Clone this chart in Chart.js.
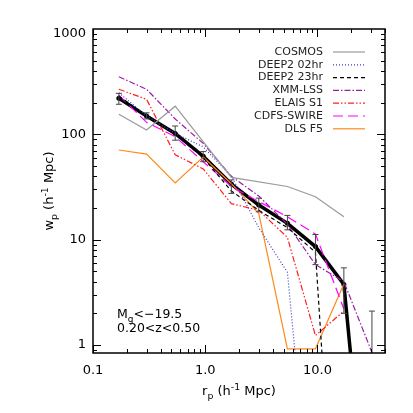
<!DOCTYPE html>
<html>
<head>
<meta charset="utf-8">
<script src="https://cdn.jsdelivr.net/npm/chart.js@4.4.0/dist/chart.umd.min.js"></script>
<style>html,body{margin:0;padding:0;background:#fff}</style>
</head>
<body>
<canvas id="chart" width="413" height="413"></canvas>
<script>
// data (rp in h^-1 Mpc, wp in h^-1 Mpc)
var rp = [0.17, 0.30, 0.54, 0.96, 1.71, 3.0, 5.4, 9.6, 17.2, 30.6];

var allWp = [220, 149, 102, 62, 33.7, 21.3, 14.3, 8.6, 3.76, 0.0066];
var allLo = [193, 140, 88, 55, 27.5, 18.4, 12.4, 5.8, 2.0, 0.3];
var allHi = [245, 160, 120, 68.6, 36.9, 24.8, 17.0, 11.2, 5.4, 2.1];

var cosmosRp = [0.17, 0.30, 0.54, 1.71, 5.4, 9.6, 17.2];
var cosmosWp = [155, 110, 185, 39, 32, 25.6, 16.5];
var deep02Wp = [248, 150, 102, 76, 40, 13, 4.9, 0.008];
var deep23Wp = [230, 150, 100, 60, 29, 19, 13, 7.6, 0.0005];
var xmmWp    = [352, 268, 140, 82, 40, 26, 14, 5.8, 4.0, 0.85];
var elaisWp  = [268, 215, 64, 47, 22, 19, 10.5, 1.23, 2.1];
var cdfsWp   = [236, 130, 95, 55, 32, 23, 16.5, 11.3, 2.2];
var dlsWp    = [71, 65, 34.6, 61, 34, 17.8, 0.92, 0.92, 3.8];

var xTicks = [0.1, 1, 10];
var xTickLabels = ['0.1', '1.0', '10.0'];
var yTicks = [1, 10, 100, 1000];
var yTickLabels = ['1', '10', '100', '1000'];

var FONT = '"DejaVu Sans", sans-serif';

function pts(xs, ys) {
  return ys.map(function(v, i) { return {x: xs[i], y: v}; });
}

function line(label, xs, ys, color, dash, width) {
  return {
    label: label,
    data: pts(xs, ys),
    borderColor: color,
    backgroundColor: color,
    borderWidth: width || 1.2,
    borderDash: dash,
    pointRadius: 0,
    fill: false,
    tension: 0
  };
}

var datasets = [
  line('COSMOS', cosmosRp, cosmosWp, '#9a9a9a', []),
  line('DEEP2 02hr', rp, deep02Wp, '#3a3acc', [1, 2]),
  line('DEEP2 23hr', rp, deep23Wp, '#000000', [4, 3]),
  line('XMM-LSS', rp, xmmWp, '#9b1ea6', [6, 2, 1.5, 2]),
  line('ELAIS S1', rp, elaisWp, '#ff1f1f', [6, 2, 1.5, 2, 1.5, 2]),
  line('CDFS-SWIRE', rp, cdfsWp, '#ff00ff', [10, 5]),
  line('DLS F5', rp, dlsWp, '#ff8a1c', [])
];
var all = line('all', rp, allWp, '#000000', [], 3.5);
all.pointRadius = 2.5;
all.pointBorderWidth = 0;
all.pointBackgroundColor = '#000';
all.legend = false;
datasets.push(all);

function richText(ctx, parts, x, y, size, align) {
  var w = 0;
  parts.forEach(function(p) {
    ctx.font = (p[1] ? size * 0.72 : size) + 'px ' + FONT;
    w += ctx.measureText(p[0]).width;
  });
  var cx = align === 'center' ? x - w / 2 : x;
  parts.forEach(function(p) {
    var s = p[1] ? size * 0.72 : size;
    ctx.font = s + 'px ' + FONT;
    var dy = p[1] === 1 ? size * 0.32 : (p[1] === 2 ? -size * 0.42 : 0);
    ctx.fillText(p[0], cx, y + dy);
    cx += ctx.measureText(p[0]).width;
  });
}

var errorBars = {
  id: 'errorBars',
  afterDatasetsDraw: function(chart) {
    var ctx = chart.ctx, a = chart.chartArea;
    var xs = chart.scales.x, ys = chart.scales.y;
    ctx.save();
    ctx.beginPath();
    ctx.rect(a.left, a.top, a.right - a.left, a.bottom - a.top);
    ctx.clip();
    ctx.strokeStyle = '#444';
    ctx.lineWidth = 1;
    rp.forEach(function(r, i) {
      var px = xs.getPixelForValue(r);
      var y1 = ys.getPixelForValue(allLo[i]), y2 = ys.getPixelForValue(allHi[i]);
      ctx.beginPath();
      ctx.moveTo(px, y1); ctx.lineTo(px, y2);
      ctx.moveTo(px - 3, y1); ctx.lineTo(px + 3, y1);
      ctx.moveTo(px - 3, y2); ctx.lineTo(px + 3, y2);
      ctx.stroke();
    });
    ctx.restore();
  }
};

function minorValues(min, max) {
  var out = [];
  for (var d = Math.pow(10, Math.floor(Math.log10(min))); d < max; d *= 10) {
    for (var k = 1; k < 10; k++) {
      var v = d * k;
      if (v >= min && v <= max) out.push(v);
    }
  }
  return out;
}

var frame = {
  id: 'frame',
  afterDraw: function(chart) {
    var ctx = chart.ctx, a = chart.chartArea;
    var xs = chart.scales.x, ys = chart.scales.y;
    ctx.save();
    ctx.strokeStyle = '#000';
    ctx.lineWidth = 1.5;
    ctx.strokeRect(a.left, a.top, a.right - a.left, a.bottom - a.top);
    ctx.lineWidth = 1;
    ctx.beginPath();
    minorValues(xs.min, xs.max).forEach(function(v) {
      var major = xTicks.indexOf(v) >= 0;
      var len = major ? 8 : 4;
      var px = Math.round(xs.getPixelForValue(v)) + 0.5;
      ctx.moveTo(px, a.bottom); ctx.lineTo(px, a.bottom - len);
      ctx.moveTo(px, a.top); ctx.lineTo(px, a.top + len);
    });
    minorValues(ys.min, ys.max).forEach(function(v) {
      var major = yTicks.indexOf(v) >= 0;
      var len = major ? 8 : 4;
      var py = Math.round(ys.getPixelForValue(v)) + 0.5;
      ctx.moveTo(a.left, py); ctx.lineTo(a.left + len, py);
      ctx.moveTo(a.right, py); ctx.lineTo(a.right - len, py);
    });
    ctx.stroke();

    // tick labels
    ctx.fillStyle = '#000';
    ctx.font = '13px ' + FONT;
    ctx.textAlign = 'center';
    ctx.textBaseline = 'middle';
    xTicks.forEach(function(v, i) {
      ctx.fillText(xTickLabels[i], xs.getPixelForValue(v), a.bottom + 18);
    });
    ctx.textAlign = 'right';
    yTicks.forEach(function(v, i) {
      var py = Math.max(ys.getPixelForValue(v), a.top + 5);
      ctx.fillText(yTickLabels[i], a.left - 7, py);
    });

    // axis titles
    ctx.textAlign = 'left';
    ctx.textBaseline = 'alphabetic';
    richText(ctx, [['r', 0], ['p', 1], [' (h', 0], ['-1', 2], [' Mpc)', 0]],
      (a.left + a.right) / 2, a.bottom + 42, 13, 'center');
    ctx.save();
    ctx.translate(a.left - 40, (a.top + a.bottom) / 2);
    ctx.rotate(-Math.PI / 2);
    richText(ctx, [['w', 0], ['p', 1], [' (h', 0], ['-1', 2], [' Mpc)', 0]], 0, 0, 13, 'center');
    ctx.restore();

    // legend
    var ly = a.top + 23;
    chart.data.datasets.forEach(function(ds) {
      if (ds.legend === false) return;
      ctx.font = '11px ' + FONT;
      ctx.textAlign = 'right';
      ctx.textBaseline = 'middle';
      ctx.fillStyle = '#222';
      ctx.fillText(ds.label, a.right - 62, ly);
      ctx.beginPath();
      ctx.strokeStyle = ds.borderColor;
      ctx.lineWidth = ds.borderWidth;
      ctx.setLineDash(ds.borderDash);
      ctx.moveTo(a.right - 52, ly); ctx.lineTo(a.right - 20, ly);
      ctx.stroke();
      ctx.setLineDash([]);
      ly += 12.8;
    });

    // sample annotation
    ctx.fillStyle = '#000';
    ctx.textAlign = 'left';
    ctx.textBaseline = 'alphabetic';
    richText(ctx, [['M', 0], ['g', 1], ['<\u221219.5', 0]], a.left + 24, 318, 12.5, 'left');
    richText(ctx, [['0.20<z<0.50', 0]], a.left + 24, 332, 12.5, 'left');
    ctx.restore();
  }
};

var chart = new Chart(document.getElementById('chart').getContext('2d'), {
  type: 'line',
  data: {datasets: datasets},
  options: {
    responsive: false,
    animation: false,
    layout: {padding: {left: 93, top: 29, right: 28, bottom: 60}},
    plugins: {legend: {display: false}, tooltip: {enabled: false}},
    scales: {
      x: {type: 'logarithmic', min: 0.1, max: 40, display: false},
      y: {type: 'logarithmic', min: 0.84, max: 1000, display: false}
    }
  },
  plugins: [errorBars, frame]
});
</script>
</body>
</html>
